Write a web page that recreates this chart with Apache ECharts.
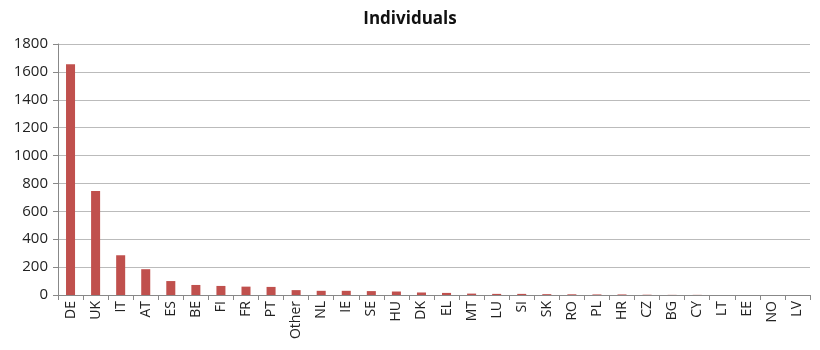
<!DOCTYPE html>
<html><head><meta charset="utf-8">
<script src="https://cdn.jsdelivr.net/npm/echarts@6/dist/echarts.min.js"></script>
<style>html,body{margin:0;padding:0;background:#fff}#c{width:820px;height:350px}</style>
</head><body><div id="c"></div>
<script>
const categories = ["DE","UK","IT","AT","ES","BE","FI","FR","PT","Other","NL","IE","SE","HU","DK","EL","MT","LU","SI","SK","RO","PL","HR","CZ","BG","CY","LT","EE","NO","LV"];
const values = [1655,745,285,185,100,72,65,60,58,35,30,30,28,25,18,15,10,8,8,6,5,4,4,2,1,1,0,0,0,0];
const yTicks = {min:0, max:1800, interval:200};
const chart = echarts.init(document.getElementById('c'));
chart.setOption({
  animation:false,
  title:{text:'Individuals', left:'center', top:6, textStyle:{fontFamily:'Open Sans', fontWeight:'bold', fontSize:17, color:'#111'}},
  grid:{left:58, right:10, top:44, bottom:55},
  xAxis:{type:'category', data:categories,
    axisLine:{lineStyle:{color:'#888'}},
    axisTick:{show:true, alignWithLabel:false, length:5, lineStyle:{color:'#888'}},
    axisLabel:{rotate:90, interval:0, fontFamily:'Open Sans', fontSize:14, color:'#222', margin:6}},
  yAxis:{type:'value', min:yTicks.min, max:yTicks.max, interval:yTicks.interval,
    axisLine:{show:true, lineStyle:{color:'#888'}},
    axisTick:{show:true, length:5, lineStyle:{color:'#888'}},
    splitLine:{lineStyle:{color:'#bbb'}},
    axisLabel:{fontFamily:'Open Sans', fontSize:15, color:'#222', margin:10, formatter:v=>String(v)}},
  series:[{type:'bar', data:values, barWidth:'36%', itemStyle:{color:'#c0504d'}}]
});
</script></body></html>
